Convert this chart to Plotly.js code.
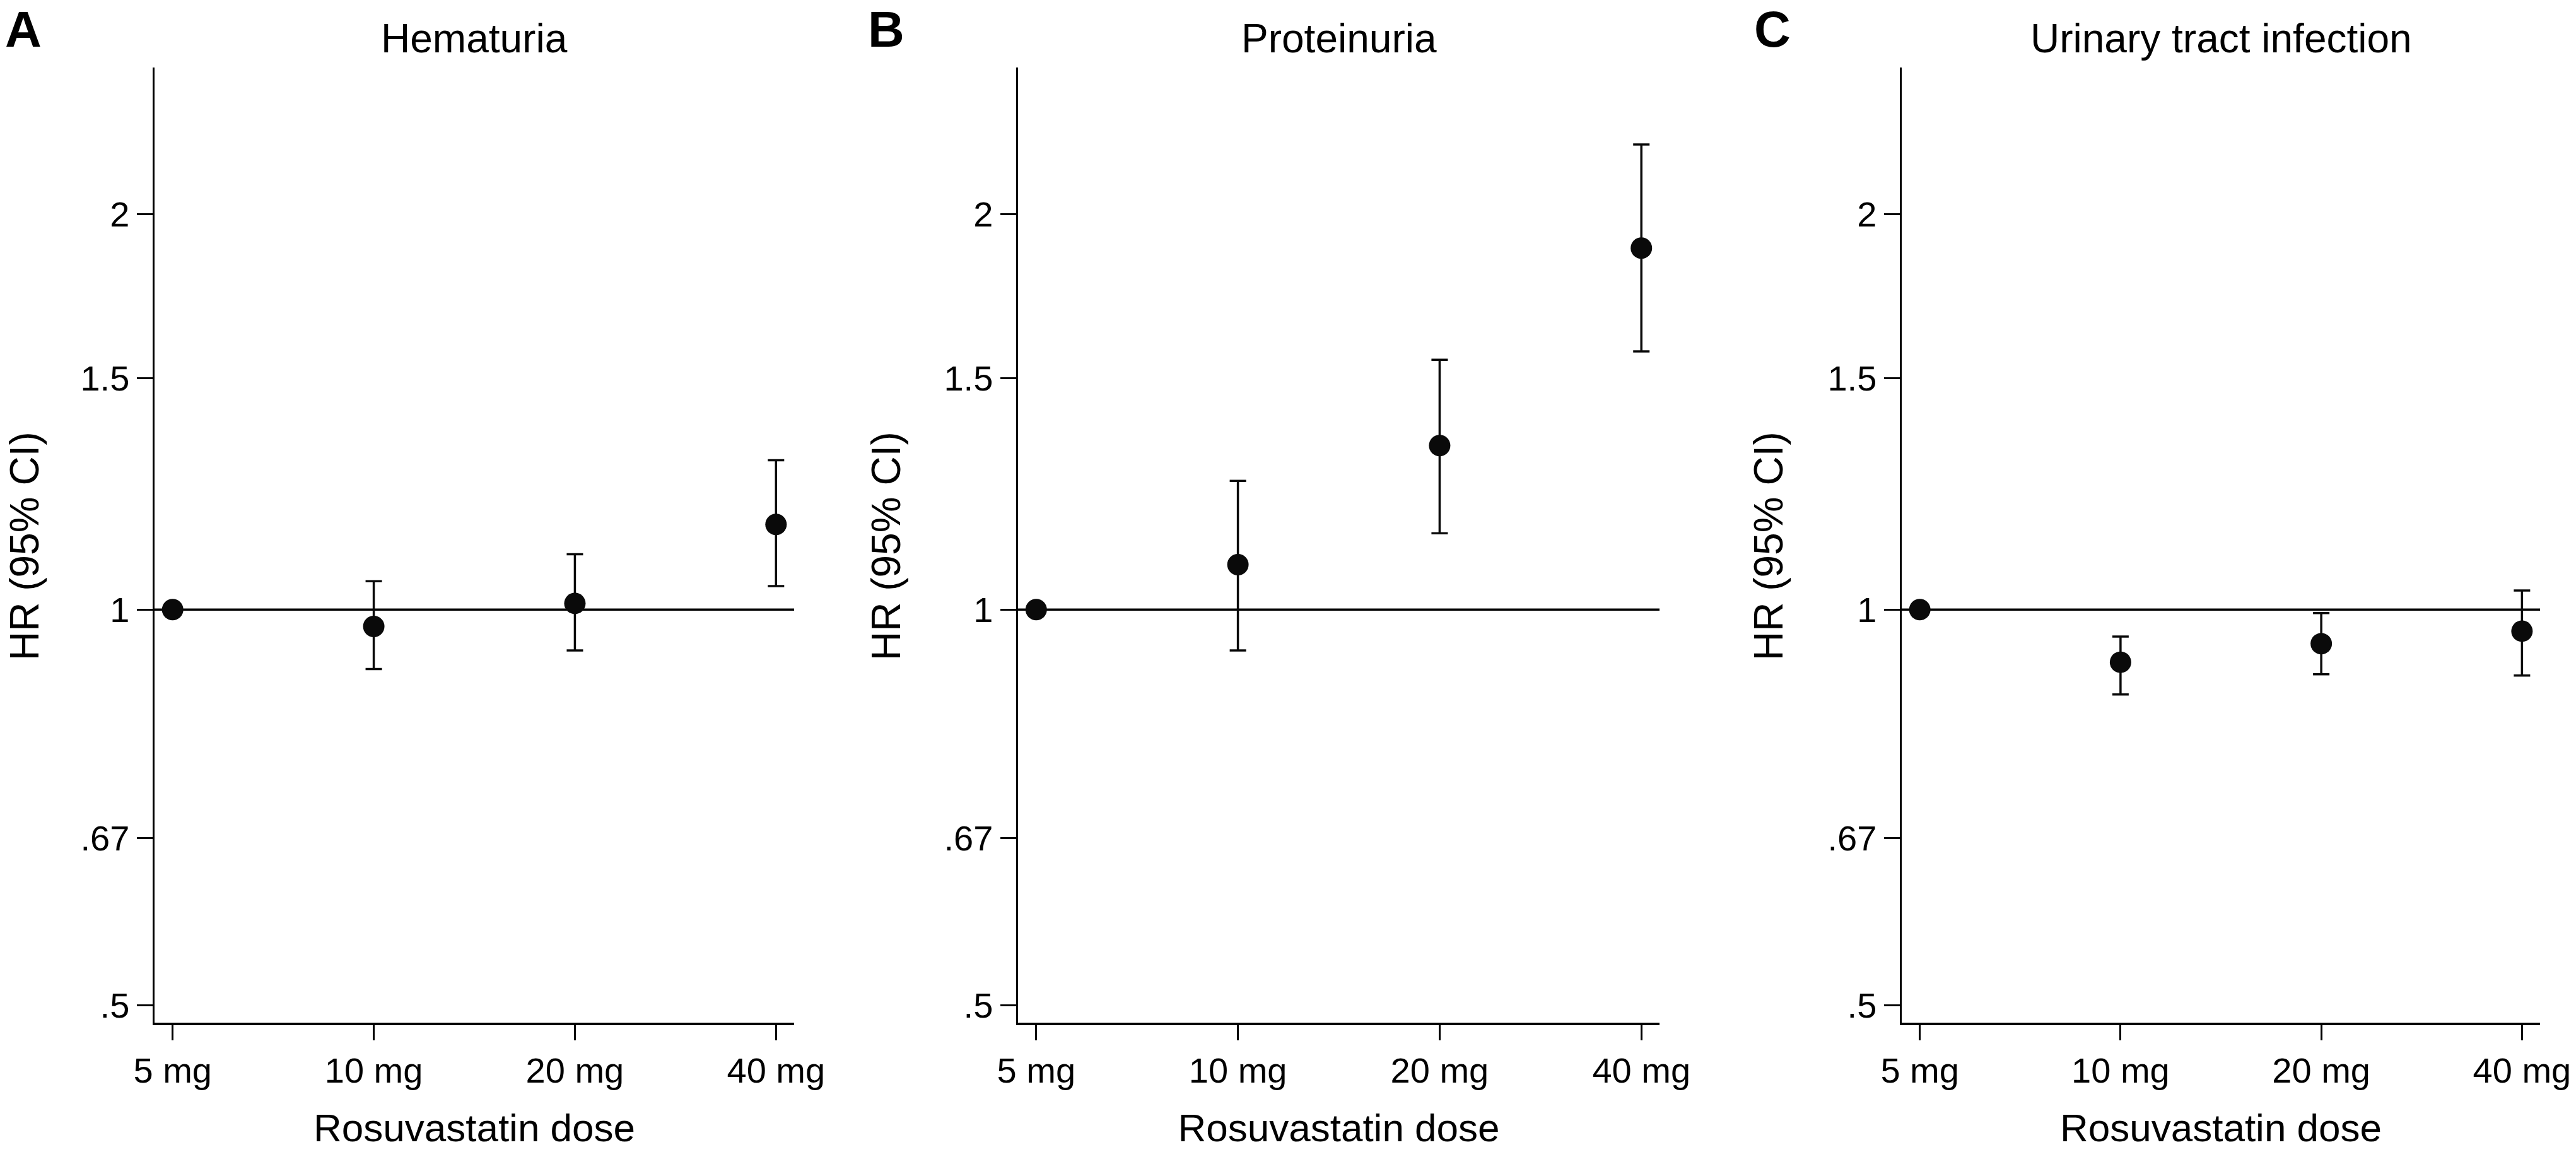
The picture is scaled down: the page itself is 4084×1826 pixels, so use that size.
<!DOCTYPE html>
<html>
<head>
<meta charset="utf-8">
<script src="https://cdn.plot.ly/plotly-3.0.1.min.js"></script>
<style>html,body{margin:0;padding:0;background:#fff;}#chart{width:4084px;height:1826px;}</style>
</head>
<body>
<div id="chart"></div>
<script>
// ---- Data ----
const doses = ['5 mg', '10 mg', '20 mg', '40 mg'];

const hematuriaHR = [1, 0.971, 1.011, 1.161];
const hematuriaLo = [null, 0.901, 0.931, 1.042];
const hematuriaHi = [null, 1.051, 1.102, 1.299];

const proteinuriaHR = [1, 1.082, 1.333, 1.884];
const proteinuriaLo = [null, 0.931, 1.143, 1.572];
const proteinuriaHi = [null, 1.253, 1.549, 2.259];

const utiHR = [1, 0.912, 0.942, 0.963];
const utiLo = [null, 0.862, 0.893, 0.891];
const utiHi = [null, 0.954, 0.994, 1.034];

const panelTitles = ['Hematuria', 'Proteinuria', 'Urinary tract infection'];
const panelLetters = ['A', 'B', 'C'];
const yTickVals = [0.5, 0.67, 1, 1.5, 2];
const yTickText = ['.5', '.67', '1', '1.5', '2'];
const referenceHR = 1;
const xTitle = 'Rosuvastatin dose';
const yTitle = 'HR (95% CI)';

// ---- Layout geometry ----
const W = 4084, H = 1826;
const FONT = 'Liberation Sans, Arial, Helvetica, sans-serif';
const xDomainsPx = [[245, 1259], [1614, 2631], [3015, 4027]];
const yDomainPx = [107, 1621]; // top, bottom
const yTitleCenterPx = [39, 1405, 2804];
const letterLeftPx = [6, 1374, 2779];

const series = [
  {hr: hematuriaHR, lo: hematuriaLo, hi: hematuriaHi},
  {hr: proteinuriaHR, lo: proteinuriaLo, hi: proteinuriaHi},
  {hr: utiHR, lo: utiLo, hi: utiHi}
];

const traces = [];
const layout = {
  width: W, height: H,
  margin: {l: 0, r: 0, t: 0, b: 0, pad: 0},
  paper_bgcolor: '#ffffff',
  plot_bgcolor: '#ffffff',
  showlegend: false,
  font: {family: FONT, color: '#000000', size: 56},
  annotations: [],
  shapes: []
};

series.forEach((s, i) => {
  const n = i === 0 ? '' : String(i + 1);
  const plus = s.hr.map((v, k) => s.hi[k] == null ? null : s.hi[k] - v);
  const minus = s.hr.map((v, k) => s.lo[k] == null ? null : v - s.lo[k]);
  traces.push({
    type: 'scatter', mode: 'markers',
    x: doses, y: s.hr,
    xaxis: 'x' + n, yaxis: 'y' + n,
    marker: {size: 34, color: '#0a0a0a'},
    error_y: {type: 'data', symmetric: false, array: plus, arrayminus: minus,
              color: '#0a0a0a', thickness: 3.5, width: 13},
    hoverinfo: 'x+y'
  });
  const dom = xDomainsPx[i];
  layout['xaxis' + n] = {
    domain: [dom[0] / W, dom[1] / W],
    anchor: 'y' + n,
    type: 'category',
    categoryarray: doses,
    range: [-0.09, 3.09],
    showgrid: false, zeroline: false,
    showline: true, linecolor: '#000000', linewidth: 4,
    ticks: 'outside', ticklen: 24, tickwidth: 3, tickcolor: '#000000',
    tickfont: {family: FONT, size: 56, color: '#000000'},
    title: {text: xTitle, font: {family: FONT, size: 62, color: '#000000'}, standoff: 39},
    fixedrange: true
  };
  layout['yaxis' + n] = {
    domain: [1 - yDomainPx[1] / H, 1 - yDomainPx[0] / H],
    anchor: 'x' + n,
    type: 'log',
    range: [Math.log10(0.485), Math.log10(2.585)],
    tickvals: yTickVals, ticktext: yTickText,
    showgrid: false, zeroline: false,
    showline: true, linecolor: '#000000', linewidth: 3.5,
    ticks: 'outside', ticklen: 25, tickwidth: 3, tickcolor: '#000000',
    tickfont: {family: FONT, size: 56, color: '#000000'},
    fixedrange: true
  };
  layout.shapes.push({
    type: 'line', xref: 'x' + n + ' domain', yref: 'y' + n,
    x0: 0, x1: 1, y0: referenceHR, y1: referenceHR,
    line: {color: '#000000', width: 3.5}, layer: 'below'
  });
  layout.annotations.push({
    text: panelTitles[i], showarrow: false,
    xref: 'paper', yref: 'paper',
    x: ((dom[0] + dom[1]) / 2) / W, y: 1 - 61 / H,
    xanchor: 'center', yanchor: 'middle',
    font: {family: FONT, size: 64, color: '#000000'}
  });
  layout.annotations.push({
    text: '<b>' + panelLetters[i] + '</b>', showarrow: false,
    xref: 'paper', yref: 'paper',
    x: letterLeftPx[i] / W, y: 1,
    xanchor: 'left', yanchor: 'top',
    font: {family: FONT, size: 80, color: '#000000'}
  });
  layout.annotations.push({
    text: yTitle, showarrow: false, textangle: -90,
    xref: 'paper', yref: 'paper',
    x: yTitleCenterPx[i] / W, y: 1 - 866 / H,
    xanchor: 'center', yanchor: 'middle',
    font: {family: FONT, size: 64, color: '#000000'}
  });
});

Plotly.newPlot('chart', traces, layout, {displayModeBar: false, staticPlot: true});
</script>
</body>
</html>
